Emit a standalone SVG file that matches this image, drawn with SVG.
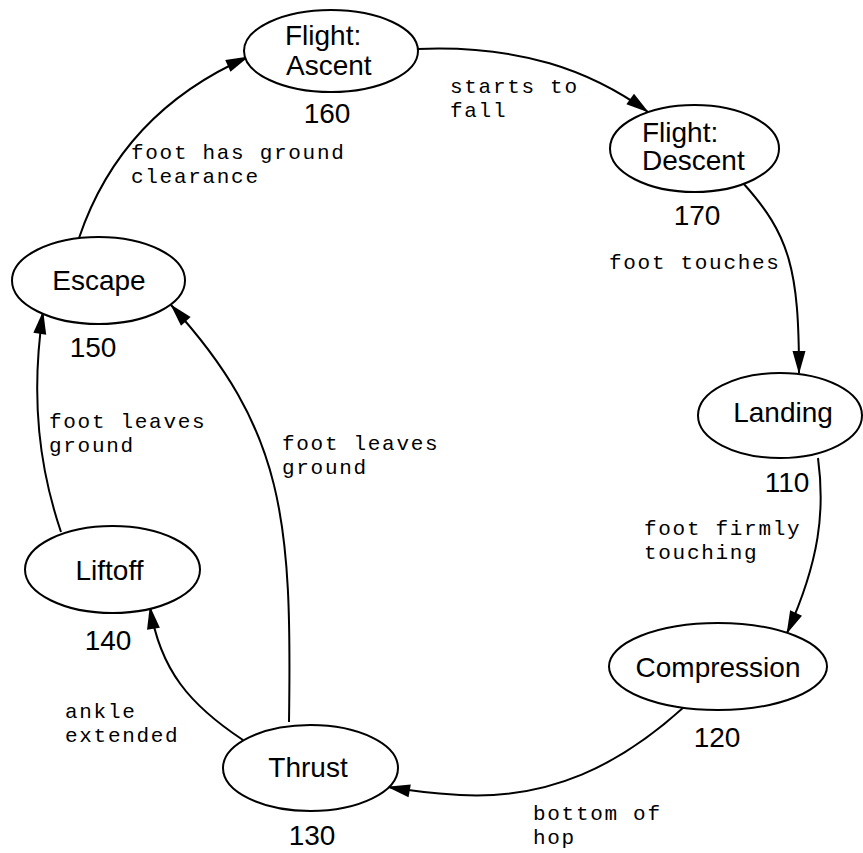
<svg xmlns="http://www.w3.org/2000/svg" width="863" height="853" viewBox="0 0 863 853">
<defs>
<marker id="arr" markerWidth="24" markerHeight="14" refX="22" refY="6.5" orient="auto" markerUnits="userSpaceOnUse" overflow="visible">
<path d="M0,0 L23,6.5 L0,13 z" fill="#000"/>
</marker>
</defs>
<style>
.node ellipse{fill:#fff;stroke:#000;stroke-width:2}
.nt{font-family:"Liberation Sans",Arial,sans-serif;font-size:28px;fill:#000}
.c{text-anchor:middle}
.lbl{font-family:"Liberation Mono","Courier New",monospace;font-size:21px;letter-spacing:1.7px;fill:#000}
.edge{fill:none;stroke:#000;stroke-width:2;marker-end:url(#arr)}
</style>
<rect width="863" height="853" fill="#fff"/>
<g id="connectors">
<path class="edge" d="M79,238 C 102,170 150,100 248,57"/>
<path class="edge" d="M418,49 C 520,45 590,70 648,112"/>
<path class="edge" d="M743,183 C 790,235 799,270 799,373"/>
<path class="edge" d="M818,458 C 825,510 820,560 787,633"/>
<path class="edge" d="M684,707 C 620,765 550,800 460,795 C 430,793 405,790 388,787"/>
<path class="edge" d="M243,740 C 190,705 160,670 150,607"/>
<path class="edge" d="M61,532 C 40,470 30,400 43,312"/>
<path class="edge" d="M289,722 C 292,520 285,430 171,305"/>
</g>
<g id="edge-labels" class="lbl">
<text x="131" y="159">foot has ground</text>
<text x="131" y="183">clearance</text>
<text x="450" y="93">starts to</text>
<text x="450" y="117">fall</text>
<text x="609" y="269">foot touches</text>
<text x="49" y="428">foot leaves</text>
<text x="49" y="452">ground</text>
<text x="282" y="450">foot leaves</text>
<text x="282" y="474">ground</text>
<text x="644" y="535">foot firmly</text>
<text x="644" y="559">touching</text>
<text x="65" y="718">ankle</text>
<text x="65" y="742">extended</text>
<text x="533" y="820">bottom of</text>
<text x="533" y="844">hop</text>
</g>
<g id="n160" class="node">
<ellipse cx="331" cy="51" rx="87" ry="41"/>
<text class="nt" x="285" y="45">Flight:</text>
<text class="nt" x="286" y="75">Ascent</text>
<text class="nt c" x="327" y="123">160</text>
</g>
<g id="n170" class="node">
<ellipse cx="694.5" cy="148.5" rx="84.5" ry="43.5"/>
<text class="nt" x="642" y="142">Flight:</text>
<text class="nt" x="642" y="170">Descent</text>
<text class="nt c" x="697" y="225">170</text>
</g>
<g id="n150" class="node">
<ellipse cx="98.5" cy="280.5" rx="86.5" ry="43.5"/>
<text class="nt c" x="99" y="290">Escape</text>
<text class="nt c" x="93" y="357">150</text>
</g>
<g id="n140" class="node">
<ellipse cx="112.5" cy="569.5" rx="87.5" ry="43.5"/>
<text class="nt c" x="109.5" y="580">Liftoff</text>
<text class="nt c" x="108" y="650">140</text>
</g>
<g id="n130" class="node">
<ellipse cx="310.5" cy="768" rx="87.5" ry="43"/>
<text class="nt c" x="308" y="777">Thrust</text>
<text class="nt c" x="312" y="845">130</text>
</g>
<g id="n120" class="node">
<ellipse cx="718" cy="666.5" rx="109" ry="43.5"/>
<text class="nt c" x="718" y="677">Compression</text>
<text class="nt c" x="717" y="747">120</text>
</g>
<g id="n110" class="node">
<ellipse cx="780" cy="415.5" rx="82" ry="42.5"/>
<text class="nt c" x="783" y="422">Landing</text>
<text class="nt c" x="787" y="492">110</text>
</g>
</svg>
